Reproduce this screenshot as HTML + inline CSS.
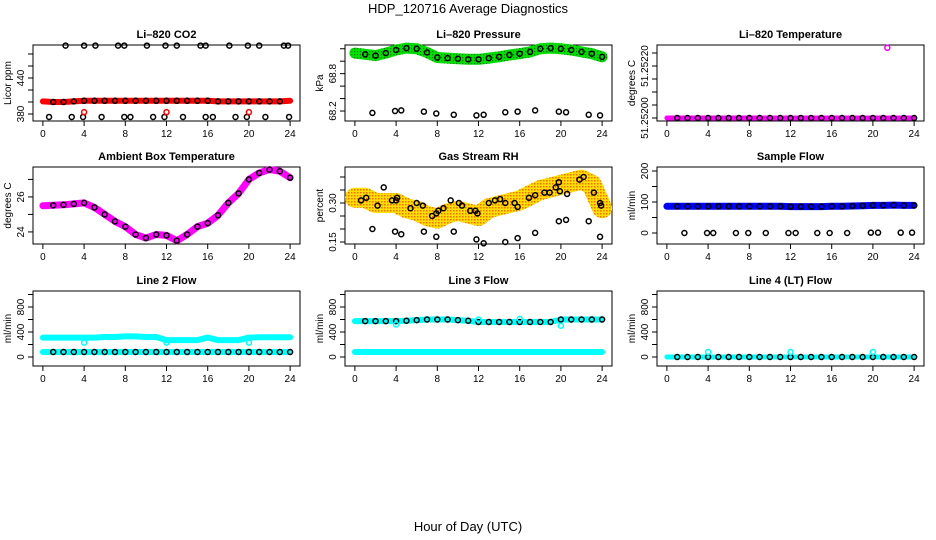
<!DOCTYPE html>
<html><head><meta charset="utf-8"><style>
html,body{margin:0;padding:0;background:#fff;}
svg{display:block;font-family:"Liberation Sans",Arial,sans-serif;}
</style></head><body>
<svg id="chart" width="936" height="540" viewBox="0 0 936 540">
<defs>
<pattern id="rhpat" width="3" height="3" patternUnits="userSpaceOnUse">
<rect width="3" height="3" fill="#FFE000"/><rect width="1.5" height="1.5" fill="#FF6a00"/>
</pattern>
<pattern id="grpat" width="3" height="3" patternUnits="userSpaceOnUse">
<rect width="3" height="3" fill="#00E000"/><rect width="1.2" height="1.2" fill="#007a00"/>
</pattern>
</defs>
<text x="468" y="13" text-anchor="middle" font-size="13">HDP_120716  Average Diagnostics</text>
<text x="468" y="531" text-anchor="middle" font-size="13">Hour of Day (UTC)</text>
<g id="panels"></g>
</svg>
<script>
// ---- data ----
const hourTicks = [0,4,8,12,16,20,24];
const hours = [0,1,2,3,4,5,6,7,8,9,10,11,12,13,14,15,16,17,18,19,20,21,22,23,24];
const co2Band = [401,400,400,401,402,402,402,402,402,402,402,402,402,402,402,402,402,401,401,401,401,401,401,401,402];
const co2HighHours = [2.2,4,5.1,7.3,7.9,10.1,11.9,13,15.3,15.8,18.1,19.9,21,23.4,23.8];
const co2HighVals = [494,494,494,494,494,494,494,494,494,494,494,494,494,494,494];
const co2LowHours = [0.6,2.8,3.9,5.7,7.9,8.5,10.7,11.8,13.6,15.8,16.5,18.7,19.8,21.6,23.9];
const co2LowVals = [375,375,375,375,375,375,375,375,375,375,375,375,375,375,375];
const co2OutHours = [4,12,20];
const co2OutVals = [383,383,383];
const presBand = [69.13,69.11,69.09,69.13,69.18,69.21,69.2,69.14,69.06,69.05,69.04,69.03,69.03,69.05,69.07,69.1,69.12,69.15,69.2,69.21,69.2,69.18,69.15,69.12,69.07];
const presLowHours = [1.7,3.9,4.5,6.7,7.9,9.6,11.8,12.5,14.6,15.8,17.5,19.8,20.5,22.7,23.8];
const presLowVals = [68.17,68.2,68.21,68.19,68.16,68.14,68.13,68.14,68.18,68.19,68.21,68.19,68.18,68.14,68.13];
const tempBand = [51.252,51.252,51.252,51.252,51.252,51.252,51.252,51.252,51.252,51.252,51.252,51.252,51.252,51.252,51.252,51.252,51.252,51.252,51.252,51.252,51.252,51.252,51.252,51.252,51.252];
const tempOutHours = [21.4];
const tempOutVals = [51.25227];
const ambBand = [25.5,25.52,25.55,25.6,25.66,25.4,25.0,24.6,24.3,23.85,23.65,23.85,23.8,23.5,23.85,24.3,24.5,24.95,25.66,26.2,27.0,27.37,27.56,27.47,27.1];
const rhBand = [0.32,0.32,0.30,0.30,0.30,0.28,0.27,0.25,0.24,0.26,0.27,0.26,0.25,0.28,0.29,0.30,0.31,0.33,0.35,0.36,0.37,0.38,0.39,0.37,0.28];
const rhPtHours = [0.6,1.1,2.2,2.8,3.6,4,4.1,5.4,6.0,6.6,7.5,7.9,8.1,8.6,9.3,10.1,10.4,11.2,11.7,11.9,13,13.6,14.1,14.6,15.5,15.8,16.9,17.5,18.4,18.9,19.5,19.8,19.9,20.6,21.8,22.2,23.2,23.8,23.9];
const rhPtVals = [0.31,0.32,0.29,0.36,0.31,0.31,0.32,0.28,0.3,0.29,0.25,0.26,0.27,0.28,0.31,0.3,0.29,0.27,0.27,0.26,0.3,0.31,0.315,0.3,0.3,0.285,0.32,0.33,0.34,0.34,0.36,0.38,0.345,0.335,0.39,0.4,0.34,0.3,0.29];
const rhLowHours = [1.7,3.9,4.5,6.7,7.9,9.6,11.8,12.5,14.6,15.8,17.5,19.8,20.5,22.7,23.8];
const rhLowVals = [0.2,0.19,0.18,0.19,0.17,0.19,0.16,0.145,0.15,0.165,0.185,0.23,0.235,0.23,0.17];
const sampBand = [86,86,86,86,86,86,86,86,86,86,86,86,85,85,85,85,86,86,87,88,89,89,90,89,89];
const sampLowHours = [1.7,3.9,4.5,6.7,7.9,9.6,11.8,12.5,14.6,15.8,17.5,19.8,20.5,22.7,23.8];
const sampLowVals = [0,0,0,0,0,0,0,0,0,0,0,1,1,1,1];
const l2Black = [80,80,80,80,80,80,80,80,80,80,80,80,80,80,80,80,80,80,80,80,80,80,80,80,80];
const l2Cyan = [310,310,310,310,310,310,320,320,330,330,320,320,270,270,270,270,310,270,270,270,310,315,315,315,315];
const l2OutHours = [4,12,20];
const l2OutVals = [230,230,230];
const l3Black = [575,575,575,575,575,580,590,600,600,600,590,580,560,560,560,560,560,560,560,560,600,600,600,600,600];
const l3Cyan = [80,80,80,80,80,80,80,80,80,80,80,80,80,80,80,80,80,80,80,80,80,80,80,80,80];
const l3OutHours = [4,12,16,20];
const l3OutVals = [520,600,610,500];
const l4Black = [0,0,0,0,0,0,0,0,0,0,0,0,0,0,0,0,0,0,0,0,0,0,0,0,0];
const l4OutHours = [4,12,20];
const l4OutVals = [80,80,80];

// ---- layout ----
const NS = 'http://www.w3.org/2000/svg';
const cols = [[33,300],[345,612],[657,924]];
const rows = [[45,121],[167,244],[291,366]];
const root = document.getElementById('panels');
function mk(tag, attrs, parent){
  const e = document.createElementNS(NS, tag);
  for (const k in attrs) e.setAttribute(k, attrs[k]);
  (parent||root).appendChild(e); return e;
}
function panel(ci, ri, title, ylab, dom, yticks, ylabels, slug){
  const [L,R] = cols[ci], [T,B] = rows[ri];
  const g = mk('g', {});
  
  
  const xs = h => L + (R-L) * (h + 0.96) / 25.92;
  const ys = v => B - (B-T) * (v - dom[0]) / (dom[1]-dom[0]);
  const t = mk('text', {x:(L+R)/2, y:T-7, 'text-anchor':'middle', 'font-size':11, 'font-weight':'bold'}, g);
  t.textContent = title;
  
  
  const box = mk('rect', {x:L, y:T, width:R-L, height:B-T, fill:'none', stroke:'#000', 'stroke-width':1}, g);
  
  
  const xa = mk('g', {}, g);
  
  
  hourTicks.forEach(h => {
    mk('line', {x1:xs(h), x2:xs(h), y1:B, y2:B+5, stroke:'#000'}, xa);
    const tl = mk('text', {x:xs(h), y:B+16, 'text-anchor':'middle', 'font-size':10}, xa);
    tl.textContent = h;
  });
  const ya = mk('g', {}, g);
  
  
  yticks.forEach((v,i) => {
    mk('line', {x1:L-5, x2:L, y1:ys(v), y2:ys(v), stroke:'#000'}, ya);
    if (ylabels[i] !== '') {
      const tl = mk('text', {x:L-9, y:ys(v), 'text-anchor':'middle', 'font-size':10, transform:`rotate(-90 ${L-9} ${ys(v)})`}, ya);
      tl.textContent = ylabels[i];
    }
  });
  const yt = mk('text', {x:L-22, y:(T+B)/2, 'text-anchor':'middle', 'font-size':10, transform:`rotate(-90 ${L-22} ${(T+B)/2})`}, g);
  yt.textContent = ylab;
  
  
  const plot = mk('g', {}, g);
  
  
  return {xs, ys, g:plot};
}
function band(p, xsArr, vals, color, width, name){
  const pts = xsArr.map((h,i) => p.xs(h).toFixed(1) + ',' + p.ys(vals[i]).toFixed(1)).join(' ');
  const l = mk('polyline', {points:pts, fill:'none', stroke:color, 'stroke-width':width, 'stroke-linejoin':'round', 'stroke-linecap':'round'}, p.g);
  
  
}
function pts(p, xsArr, vals, color, name, r){
  xsArr.forEach((h,i) => {
    const c = mk('circle', {cx:p.xs(h), cy:p.ys(vals[i]), r:r||2.5, fill:'none', stroke:color, 'stroke-width':1.5}, p.g);
    
    
  });
}

// Li-820 CO2
let p = panel(0,0,'Li\u2013820 CO2','Licor ppm',[368.3,495],[380,400,420,440,460,480],['380','','','440','',''],'co2');
band(p, hours, co2Band, '#FF0000', 6, 'co2-series');
pts(p, hours.slice(1,24), co2Band.slice(1,24), '#000', 'co2-point');
pts(p, co2HighHours, co2HighVals, '#000', 'co2-high-point');
pts(p, co2LowHours, co2LowVals, '#000', 'co2-low-point');
pts(p, co2OutHours, co2OutVals, '#FF0000', 'co2-outlier');

// Li-820 Pressure
p = panel(1,0,'Li\u2013820 Pressure','kPa',[68.04,69.26],[68.2,68.4,68.6,68.8,69.0,69.2],['68.2','','','68.8','',''],'pressure');
band(p, hours, presBand, 'url(#grpat)', 11, 'pressure-series');
pts(p, hours.slice(1), presBand.slice(1), '#000', 'pressure-point');
pts(p, presLowHours, presLowVals, '#000', 'pressure-low-point');

// Li-820 Temperature
p = panel(2,0,'Li\u2013820 Temperature','degrees C',[51.2519885,51.2522808],[51.252,51.25205,51.2521,51.25215,51.2522,51.25225],['51.25200','','','','51.25220',''],'li820-temp');
band(p, hours, tempBand, '#FF00FF', 5, 'li820-temp-series');
pts(p, hours.slice(1), tempBand.slice(1), '#000', 'li820-temp-point');
pts(p, tempOutHours, tempOutVals, '#FF00FF', 'li820-temp-outlier');

// Ambient Box Temperature
p = panel(0,1,'Ambient Box Temperature','degrees C',[23.31,27.71],[24,25,26,27],['24','','26',''],'ambient-temp');
band(p, hours, ambBand, '#FF00FF', 7, 'ambient-temp-series');
pts(p, hours.slice(1), ambBand.slice(1), '#000', 'ambient-temp-point');

// Gas Stream RH
p = panel(1,1,'Gas Stream RH','percent',[0.1423,0.4385],[0.15,0.2,0.25,0.3,0.35,0.4],['0.15','','','0.30','',''],'rh');
band(p, hours, rhBand, 'url(#rhpat)', 20, 'rh-series');
pts(p, rhPtHours, rhPtVals, '#000', 'rh-point');
pts(p, rhLowHours, rhLowVals, '#000', 'rh-low-point');

// Sample Flow
p = panel(2,1,'Sample Flow','ml/min',[-35.5,212.9],[0,50,100,150,200],['0','','100','','200'],'sample-flow');
band(p, hours, sampBand, '#0000FF', 7, 'sample-flow-series');
pts(p, hours.slice(1), sampBand.slice(1), '#000', 'sample-flow-point');
pts(p, sampLowHours, sampLowVals, '#000', 'sample-flow-low-point');

// Line 2 Flow
p = panel(0,2,'Line 2 Flow','ml/min',[-144,1056],[0,200,400,600,800,1000],['0','','400','','800',''],'line2-flow');
band(p, hours, l2Cyan, '#00FFFF', 6, 'line2-flow-cyan-series');
band(p, hours, l2Black, '#00FFFF', 6, 'line2-flow-base-series');
pts(p, hours.slice(1), l2Black.slice(1), '#000', 'line2-flow-point');
pts(p, l2OutHours, l2OutVals, '#00FFFF', 'line2-flow-outlier');

// Line 3 Flow
p = panel(1,2,'Line 3 Flow','ml/min',[-144,1056],[0,200,400,600,800,1000],['0','','400','','800',''],'line3-flow');
band(p, hours, l3Black, '#00FFFF', 6, 'line3-flow-upper-series');
band(p, hours, l3Cyan, '#00FFFF', 6, 'line3-flow-cyan-series');
pts(p, hours.slice(1), l3Black.slice(1), '#000', 'line3-flow-point');
pts(p, l3OutHours, l3OutVals, '#00FFFF', 'line3-flow-outlier');

// Line 4 (LT) Flow
p = panel(2,2,'Line 4 (LT) Flow','ml/min',[-144,1056],[0,200,400,600,800,1000],['0','','400','','800',''],'line4-flow');
band(p, hours, l4Black, '#00FFFF', 5, 'line4-flow-series');
pts(p, hours.slice(1), l4Black.slice(1), '#000', 'line4-flow-point');
pts(p, l4OutHours, l4OutVals, '#00FFFF', 'line4-flow-outlier');
</script>
</body></html>
